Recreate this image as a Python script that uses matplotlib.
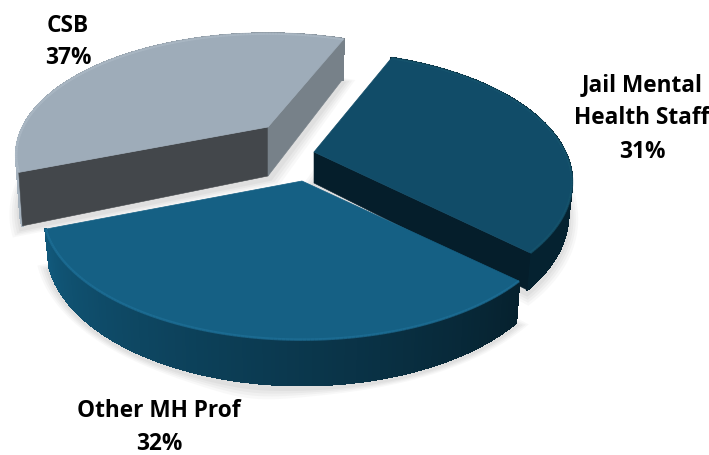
import numpy as np
import matplotlib
matplotlib.use("Agg")
import matplotlib.pyplot as plt
from matplotlib.colors import to_rgb
from matplotlib.patches import Polygon
from matplotlib.collections import PolyCollection, LineCollection

# slice values, clockwise on screen starting at the CSB / Jail cut
labels = ["Jail Mental\nHealth Staff\n31%", "Other MH Prof\n32%", "CSB\n37%"]
values = [31, 32, 37]

# exploded position of each slice apex (pixels), radii and thickness
apex = [(314, 152), (302, 181), (268, 127)]
radius_x = [251, 252, 245]
radius_y = [123, 122, 115]
depth = [31, 35, 49]
top_col = ["#114c68", "#156084", "#9eacb9"]
side_from = ["#062431", "#11587a", "#a9b6c2"]
side_to = ["#052230", "#06212e", "#778189"]
lip_col = ["#17566f", "#1f7199", "#aebbc7"]
cut_start_col = [None, None, "#43474b"]
cut_end_col = ["#051e2b", None, "#778189"]
label_pos = [(642, 118.5), (159, 427.5), (68, 42)]

P = 0.231
START = -68.0


def project(i, t):
    # circle -> screen with a simple perspective, front looks bigger
    c, s = np.cos(t), np.sin(t)
    w = 1 / (1 - P * s)
    return apex[i][0] + radius_x[i] * c * w, apex[i][1] + radius_y[i] * s * w, w


def lower(a, x, y, w, d):
    return a[0] + (x - a[0]) * 0.985, y + d * w


fig = plt.figure(figsize=(7.09, 4.55), dpi=100)
ax = fig.add_axes([0, 0, 1, 1])
ax.set_xlim(0, 709)
ax.set_ylim(455, 0)
ax.axis("off")

angles = np.radians(START + np.cumsum([0] + values) * 3.6)
order = [2, 0, 1]  # back to front
z = 2

# soft shadow under all the slices
for i in order:
    t = np.linspace(angles[i], angles[i + 1], 120)
    x, y, w = project(i, t)
    bx, by = lower(apex[i], x, y, w, depth[i])
    pts = np.column_stack([np.r_[apex[i][0], bx], np.r_[apex[i][1] + depth[i], by]])
    for grow, a in zip([13, 10, 7, 4], [0.05, 0.06, 0.07, 0.08]):
        c = pts.mean(axis=0)
        v = pts - c
        n = np.linalg.norm(v, axis=1, keepdims=True)
        ax.add_patch(Polygon(c + v * (1 + grow / n) + [0, 3], closed=True, fc="#808080",
                             ec="none", alpha=a, zorder=1))

for i in order:
    a = apex[i]
    t = np.linspace(angles[i], angles[i + 1], 160)
    x, y, w = project(i, t)
    bx, by = lower(a, x, y, w, depth[i])

    # outer wall, colour runs along the arc
    c0, c1 = np.array(to_rgb(side_from[i])), np.array(to_rgb(side_to[i]))
    quads, cols = [], []
    for k in range(len(t) - 1):
        quads.append([(x[k], y[k]), (x[k + 1], y[k + 1]), (bx[k + 1], by[k + 1]), (bx[k], by[k])])
        f = 1 - (k / (len(t) - 2)) if i == 1 else k / (len(t) - 2)
        cols.append(c0 + (c1 - c0) * f)
    ax.add_collection(PolyCollection(quads, facecolors=cols, edgecolors=cols, linewidths=1.2,
                                     antialiaseds=False, zorder=z))
    z += 1

    # the cut faces that can be seen
    adx, ady = a[0], a[1] + depth[i]
    if cut_start_col[i]:
        ax.add_patch(Polygon([a, (x[0], y[0]), (bx[0], by[0]), (adx, ady)], closed=True,
                             fc=cut_start_col[i], ec=cut_start_col[i], lw=0.4, zorder=z))
    if cut_end_col[i]:
        ax.add_patch(Polygon([a, (x[-1], y[-1]), (bx[-1], by[-1]), (adx, ady)], closed=True,
                             fc=cut_end_col[i], ec=cut_end_col[i], lw=0.4, zorder=z))
    z += 1

    # top of the slice and its lighter bevel
    top = np.column_stack([np.r_[a[0], x], np.r_[a[1], y]])
    ax.add_patch(Polygon(top, closed=True, fc=top_col[i], ec=top_col[i], lw=0.5, zorder=z))
    z += 1
    segs = [[(x[k], y[k]), (x[k + 1], y[k + 1])] for k in range(len(t) - 1)]
    ax.add_collection(LineCollection(segs, colors=lip_col[i], linewidths=1.8, alpha=0.7, zorder=z))
    z += 1

for lab, (lx, ly) in zip(labels, label_pos):
    ax.text(lx, ly, lab, ha="center", va="center", fontsize=16.3, fontweight="bold",
            family="Open Sans", color="black", linespacing=1.5, zorder=50)

fig.savefig("out.png", dpi=100)
